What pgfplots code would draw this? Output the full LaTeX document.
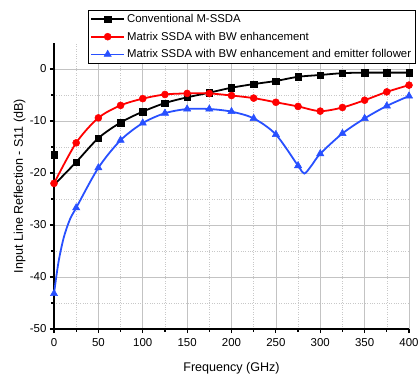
\documentclass[border=0pt]{standalone}
\usepackage{pgfplots}
\pgfplotsset{compat=1.18}
\usepackage{fontspec}
\setmainfont{Liberation Sans}
\definecolor{mblue}{RGB}{40,80,255}
\definecolor{gridmaj}{RGB}{195,195,195}
\definecolor{gridmin}{RGB}{200,200,200}
\begin{document}
\begin{tikzpicture}
\begin{axis}[
  at={(0,0)}, anchor=south west,
  scale only axis, width=355bp, height=286bp,
  xmin=0, xmax=400, ymin=-50, ymax=5,
  xtick={0,50,...,400}, ytick={-50,-40,...,0},
  minor x tick num=1, minor y tick num=1,
  axis x line*=bottom, axis y line*=left,
  axis line style={line width=1.6pt, -},
  tick align=outside,
  major tick length=4bp, minor tick length=2.5bp,
  every tick/.style={black, line width=1.2pt},
  grid=both,
  major grid style={gridmaj, line width=0.6pt},
  minor grid style={gridmin, dotted, line width=0.6pt},
  tick label style={font=\fontsize{11.5}{13}\selectfont},
  xticklabel style={yshift=-1.5bp},
  /pgf/number format/assume math mode=true,
  xlabel={Frequency (GHz)},
  ylabel={Input Line Reflection - S11 (dB)},
  label style={font=\fontsize{12.6}{14}\selectfont},
  xlabel style={at={(axis description cs:0.5,0)}, anchor=north, yshift=-30bp},
  ylabel style={at={(axis description cs:0,0.5)}, anchor=south, yshift=25bp},
  legend style={at={(0.0958,1.116)}, anchor=north west, draw=black, line width=0.6pt,
    font=\fontsize{11.4}{13}\selectfont, inner sep=2bp, row sep=4bp,
    cells={anchor=west, inner xsep=2bp},
    /tikz/every even column/.append style={column sep=0bp}},
  legend image code/.code={\draw[#1, line width=1.8pt, mark indices={2}] plot coordinates {(0bp,0bp) (16.5bp,0bp) (33bp,0bp)};},
]
\addplot[black, line width=1.8pt, smooth, tension=0.5, mark=square*, mark size=3.2bp, mark options={solid, line width=0.5pt},
  mark indices={2,3,4,5,6,7,8,9,10,11,12,13,14,15,16,17}] coordinates {
(0,-22.3) (25,-17.9) (50,-13.3) (75,-10.3) (100,-8.2) (125,-6.55) (150,-5.45)
(175,-4.55) (200,-3.6) (225,-2.9) (250,-2.3) (275,-1.5) (300,-1.15) (325,-0.8)
(350,-0.7) (375,-0.7) (400,-0.7)};
\addlegendentry{Conventional M-SSDA}
\addplot[red, line width=1.8pt, smooth, tension=0.5, mark=*, mark size=3.5bp, mark options={line width=0.5pt}] coordinates {
(0,-22) (25,-14.2) (50,-9.4) (75,-7.0) (100,-5.7) (125,-4.9) (150,-4.7)
(175,-4.7) (200,-5.1) (225,-5.6) (250,-6.4) (275,-7.2) (300,-8.1) (325,-7.4)
(350,-6.0) (375,-4.4) (400,-3.1)};
\addlegendentry{Matrix SSDA with BW enhancement}
\addplot[mblue, line width=1.8pt, smooth, tension=0.5, mark=triangle*, mark size=4.2bp, mark options={line width=0.5pt},
  mark indices={1,5,6,7,8,9,10,11,12,13,14,15,18,19,20,21,22}] coordinates {
(0,-43.2) (5,-37.2) (11,-32.4) (18,-28.9) (25,-26.7) (50,-19.0) (75,-13.7)
(100,-10.4) (125,-8.5) (150,-7.7) (175,-7.7) (200,-8.2) (225,-9.5) (250,-12.6)
(275,-18.6) (282,-20.1) (290,-18.6) (300,-16.3) (325,-12.4) (350,-9.5)
(375,-7.1) (400,-5.2)};
\addlegendentry{Matrix SSDA with BW enhancement and emitter follower}
\addplot[black, only marks, mark=square*, mark size=3.2bp, forget plot] coordinates {(0,-16.5)};
\end{axis}
\pgfresetboundingbox
\path[use as bounding box] (-54bp,-47bp) rectangle (365bp,329bp);
\end{tikzpicture}
\end{document}
